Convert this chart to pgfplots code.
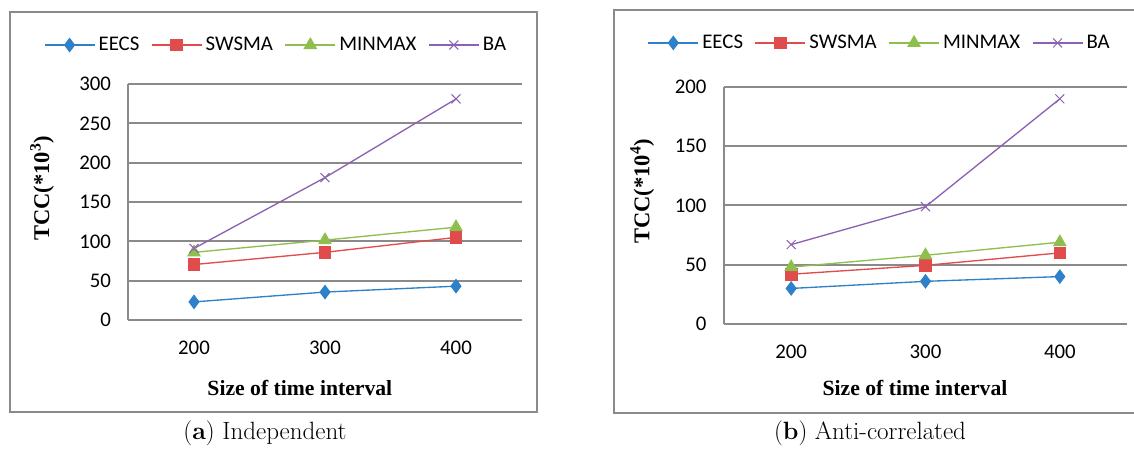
\documentclass[border=0pt]{standalone}
\usepackage{fontspec}
\usepackage{pgfplots}
\usepackage{pgfplotstable}
\pgfplotsset{compat=1.18}
\newfontfamily\calibri{Carlito}
\newfontfamily\tnr{Liberation Serif}
\definecolor{cEECS}{HTML}{2E80C8}
\definecolor{cSWSMA}{HTML}{E04B4B}
\definecolor{cMINMAX}{HTML}{8EBE4E}
\definecolor{cBA}{HTML}{8B62B2}
\definecolor{gridc}{HTML}{8A8A8A}

\pgfplotstableread{
x EECS SWSMA MINMAX BA
1 23   70.5  86    91
2 35.5 86    101.5 181
3 43   105   118   281
}\dataA
\pgfplotstableread{
x EECS SWSMA MINMAX BA
1 30   42    48    67
2 36   49.5  58    99
3 40   60    69    190
}\dataB

\pgfplotsset{
 excel/.style={
  scale only axis,
  xmin=0.5, xmax=3.5, ymin=0, ytick distance=50,
  xtick={1,2,3}, xticklabels={200,300,400},
  axis x line*=bottom, axis y line*=left,
  axis line style={gridc, line width=1.2pt, -},
  ymajorgrids, grid style={gridc, line width=1.2pt},
  major tick length=0pt,
  tick label style={font=\calibri\fontsize{12.5}{14}\selectfont},
  /pgf/number format/assume math mode=true,
  yticklabel style={xshift=-7pt},
  xticklabel style={yshift=-9pt},
  legend columns=4,
  legend style={draw=none, fill=none, font=\calibri\fontsize{12.5}{14}\selectfont, anchor=center,
    /tikz/every even column/.append style={column sep=5pt}},
  legend image code/.code={\draw[mark repeat=2,mark phase=2] plot coordinates {(0pt,0pt)(15pt,0pt)(30pt,0pt)};},
  clip=false,
 },
 sEECS/.style={color=cEECS, line width=0.8pt, mark=diamond*, mark size=3.8pt, mark options={solid}},
 sSWSMA/.style={color=cSWSMA, line width=0.8pt, mark=square*, mark size=3.4pt, mark options={solid}},
 sMINMAX/.style={color=cMINMAX, line width=0.8pt, mark=triangle*, mark size=4pt, mark options={solid}},
 sBA/.style={color=cBA, line width=0.8pt, mark=x, mark size=3.8pt, mark options={solid, line width=0.6pt}},
}

\begin{document}
\begin{tikzpicture}
\useasboundingbox (0,0) rectangle (680.4pt,270pt);
% panel boxes
\draw[gridc, line width=1.2pt] (6pt,22.8pt) rectangle (322.2pt,262.8pt);
\draw[gridc, line width=1.2pt] (368.4pt,22.2pt) rectangle (684pt,264pt);

\begin{axis}[excel, at={(77.1pt,78pt)}, anchor=south west,
  width=235.8pt, height=141.6pt, ymax=300,
  legend style={at={(rel axis cs:0.377,1.165)}},
  every axis y label/.style={at={(rel axis cs:-0.22,0.559)}, rotate=90, anchor=center,
     font=\tnr\bfseries\fontsize{13.5}{15}\selectfont},
  every axis x label/.style={at={(rel axis cs:0.436,-0.288)}, anchor=center,
     font=\tnr\bfseries\fontsize{13}{15}\selectfont},
  ylabel={TCC(*10\textsuperscript{3})},
  xlabel={Size of time interval}]
\addplot[sEECS] table[x=x,y=EECS] {\dataA};
\addplot[sSWSMA] table[x=x,y=SWSMA] {\dataA};
\addplot[sMINMAX] table[x=x,y=MINMAX] {\dataA};
\addplot[sBA] table[x=x,y=BA] {\dataA};
\legend{EECS,SWSMA,MINMAX,BA}
\end{axis}

\begin{axis}[excel, at={(434.4pt,75.6pt)}, anchor=south west,
  width=241.8pt, height=142.2pt, ymax=200,
  legend style={at={(rel axis cs:0.388,1.186)}},
  every axis y label/.style={at={(rel axis cs:-0.203,0.561)}, rotate=90, anchor=center,
     font=\tnr\bfseries\fontsize{13.5}{15}\selectfont},
  every axis x label/.style={at={(rel axis cs:0.474,-0.27)}, anchor=center,
     font=\tnr\bfseries\fontsize{13}{15}\selectfont},
  ylabel={TCC(*10\textsuperscript{4})},
  xlabel={Size of time interval}]
\addplot[sEECS] table[x=x,y=EECS] {\dataB};
\addplot[sSWSMA] table[x=x,y=SWSMA] {\dataB};
\addplot[sMINMAX] table[x=x,y=MINMAX] {\dataB};
\addplot[sBA] table[x=x,y=BA] {\dataB};
\legend{EECS,SWSMA,MINMAX,BA}
\end{axis}

\node[font=\fontsize{15}{17}\selectfont] at (159pt,10.2pt) {(\textbf{a}) Independent};
\node[font=\fontsize{15}{17}\selectfont] at (522pt,10.2pt) {(\textbf{b}) Anti-correlated};
\end{tikzpicture}
\end{document}
